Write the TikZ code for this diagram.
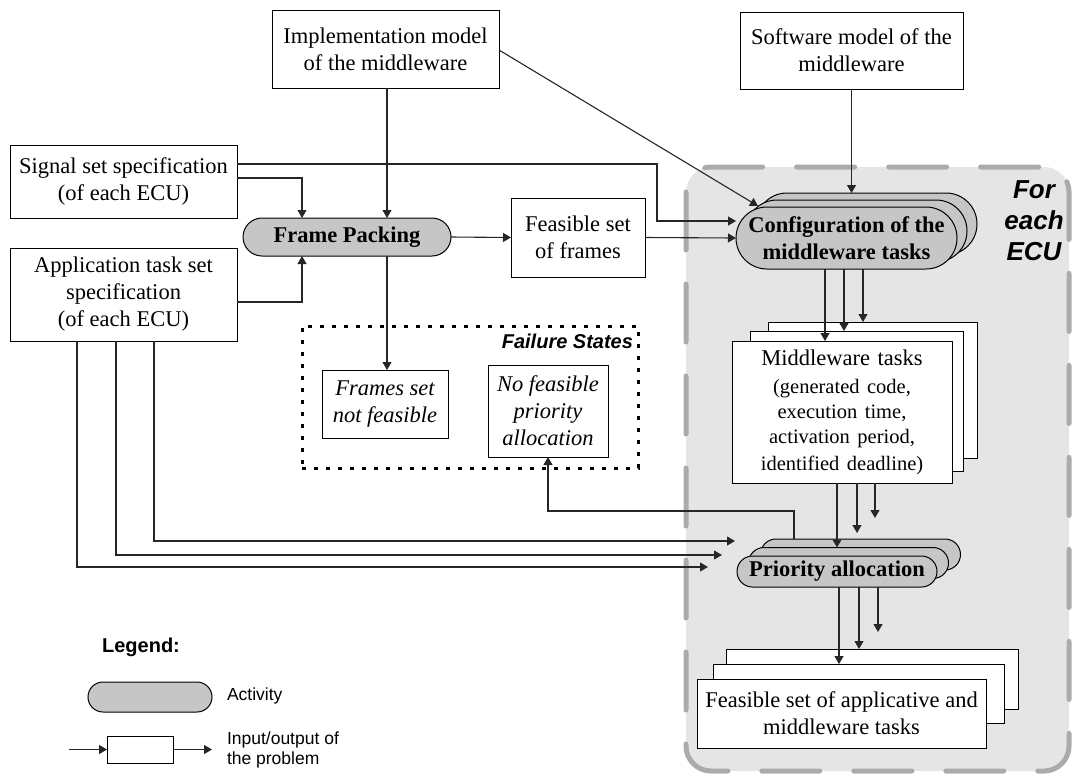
\documentclass[tikz,border=0pt]{standalone}
\usepackage{fontspec}
\setmainfont{Liberation Serif}
\newfontfamily\arialf{Liberation Sans}
\usetikzlibrary{arrows.meta}
\begin{document}
\begin{tikzpicture}[x=1pt,y=-1pt,
  every node/.style={inner sep=0pt, outer sep=0pt},
  mfont/.style={font=\fontsize{22.5}{27}\selectfont},
  box/.style={draw=black, line width=1pt, fill=white, align=center, mfont},
  ibox/.style={box, font=\itshape\fontsize{22.5}{27}\selectfont},
  pill/.style={draw=black, line width=1pt, fill=gray!45, rounded corners=#1, align=center, font=\bfseries\fontsize{22.5}{27}\selectfont},
  con/.style={draw=black!85, line width=1.1pt},
  arr/.style={con, -{Triangle[length=8pt,width=9pt]}},
  legfont/.style={font=\arialf\fontsize{17.5}{20}\selectfont},
  failbox/.style={draw=black, line width=3pt, dash pattern=on 4pt off 8pt},
]
\useasboundingbox (0,0) rectangle (1073,774);

% per-ECU region
\draw[line width=5pt, draw=black!33, fill=black!10, dash pattern=on 58pt off 34pt,
      line cap=round, rounded corners=25pt] (686,167) rectangle (1069,771);
\node[font=\arialf\bfseries\itshape\fontsize{26}{31}\selectfont, align=center] (ecu) at (1034,221) {For\\each\\ECU};

% failure states
\node[failbox, minimum width=336, minimum height=142] (fail) at (470,397) {};
\node[font=\arialf\bfseries\itshape\fontsize{20}{24}\selectfont, anchor=east] (failt) at (633,341) {Failure States};
\node[ibox, minimum width=126, minimum height=68] (fns) at (385,404) {Frames set\\not feasible};
\node[ibox, minimum width=120, minimum height=92] (nfp) at (548,411) {No feasible\\priority\\allocation};

% inputs
\node[box, minimum width=227, minimum height=78] (impl) at (385.5,49) {Implementation model\\of the middleware};
\node[box, minimum width=223, minimum height=77] (soft) at (851.5,50.5) {Software model of the\\middleware};
\node[box, minimum width=227, minimum height=73] (sig) at (123.5,181.5) {Signal set specification\\(of each ECU)};
\node[box, minimum width=227, minimum height=93] (app) at (123.5,294.5) {Application task set\\specification\\(of each ECU)};

% frame packing
\node[pill=19pt, minimum width=208, minimum height=38] (fp) at (347,237) {Frame Packing};
\node[box, minimum width=134, minimum height=79] (ff) at (578,237.5) {Feasible set\\of frames};

% configuration stack
\node[pill=31pt, minimum width=221, minimum height=62] (cfgc) at (866.5,224) {};
\node[pill=31pt, minimum width=221, minimum height=62] (cfgb) at (856.5,231) {};
\node[pill=31pt, minimum width=221, minimum height=62] (cfga) at (846.5,238) {Configuration of the\\middleware tasks};

% middleware tasks stack
\node[box, minimum width=209, minimum height=136] (mwc) at (872.5,390) {};
\node[box, minimum width=213, minimum height=140] (mwb) at (856.5,401) {};
\node[box, minimum width=220, minimum height=142, text width=220pt] (mwa) at (842,412)
  {Middleware tasks\\[3pt]\fontsize{20.5}{25}\selectfont(generated code,\\execution time,\\activation period,\\identified deadline)};

% priority allocation stack
\node[pill=15.5pt, minimum width=200, minimum height=31] (prc) at (860.5,554.5) {};
\node[pill=15.5pt, minimum width=200, minimum height=31] (prb) at (848.5,563) {};
\node[pill=15.5pt, minimum width=200, minimum height=31] (pra) at (837,571.5) {Priority allocation};

% final feasible set stack
\node[box, minimum width=292, minimum height=60] (fsc) at (872,679) {};
\node[box, minimum width=291, minimum height=59] (fsb) at (858.5,693.5) {};
\node[box, minimum width=289, minimum height=69] (fsa) at (841.5,713.5) {Feasible set of applicative and\\middleware tasks};

% connectors
\draw[arr] (sig.east |- 0,164) -- (657,164) -- (657,221) -- (cfga.west |- 0,221);
\draw[arr] (sig.east |- 0,178) -| (fp.north -| 302,0);
\draw[arr] (app.east |- 0,302) -| (fp.south -| 302,0);
\draw[arr] (impl.south -| 387,0) -- (fp.north -| 387,0);
\draw[arr] (fp.south -| 387,0) -- (fns.north -| 387,0);
\draw[arr] (impl.east |- 0,50) -- (758,206);
\draw[arr] (fp.east) -- (ff.west);
\draw[arr] (ff.east) -- (cfga.west);
\draw[arr] (soft.south) -- (cfgc.north -| soft.south);

\draw[arr] (cfga.south -| 825,0) -- (mwa.north -| 825,0);
\draw[arr] (cfga.south -| 844,0) -- (mwb.north -| 844,0);
\draw[arr] (cfga.south -| 863,0) -- (mwc.north -| 863,0);

\draw[arr] (mwa.south -| 837,0) -- (prb.north -| 837,0);
\draw[arr] (mwa.south -| 857,0) -- (857,533);
\draw[arr] (mwa.south -| 875,0) -- (875,518);

\draw[arr] (pra.south -| 839,0) -- (fsb.north -| 839,0);
\draw[arr] (pra.south -| 859,0) -- (fsc.north -| 859,0);
\draw[arr] (pra.south -| 878,0) -- (878,632);

\draw[arr] (app.south -| 154,0) |- (735,541);
\draw[arr] (app.south -| 116,0) |- (722,555);
\draw[arr] (app.south -| 77,0) |- (708,567);

\draw[arr] (prc.north -| 794,0) |- (548,511) -- (nfp.south);

% legend
\node[font=\arialf\bfseries\fontsize{20}{24}\selectfont] (leg) at (141,647) {Legend:};
\node[pill=15pt, minimum width=124, minimum height=30] (lact) at (150,697) {};
\node[legfont, anchor=west] (lacttxt) at (227,696) {Activity};
\node[box, minimum width=66, minimum height=27] (lbox) at (140,749.5) {};
\coordinate (lin) at (69,749.5);
\coordinate (lout) at (212,749.5);
\draw[arr] (lin) -- (lbox.west);
\draw[arr] (lbox.east) -- (lout);
\node[legfont, anchor=west, align=left] (lio) at (227,750) {Input/output of\\the problem};
\end{tikzpicture}
\end{document}
